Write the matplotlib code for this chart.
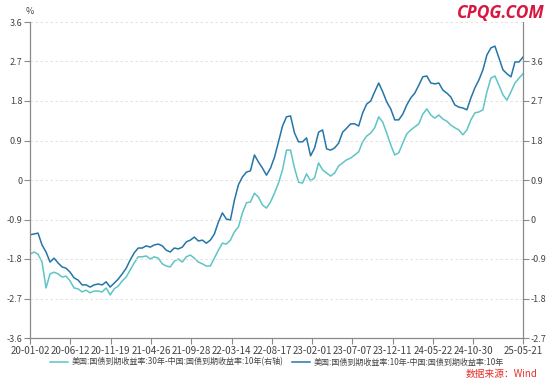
import matplotlib

matplotlib.use("Agg")
import matplotlib.pyplot as plt
import numpy as np

plt.rcParams["font.family"] = ["Noto Sans CJK SC", "DejaVu Sans"]
plt.rcParams["axes.unicode_minus"] = False

# 美国10年 - 中国10年 (左轴)
spread_10y = [
    -1.25, -1.23, -1.21, -1.48, -1.64, -1.87, -1.78, -1.89, -1.98, -2.01,
    -2.10, -2.23, -2.28, -2.39, -2.39, -2.44, -2.39, -2.37, -2.39, -2.32,
    -2.44, -2.35, -2.26, -2.14, -2.01, -1.82, -1.66, -1.55, -1.55, -1.50,
    -1.53, -1.48, -1.46, -1.50, -1.60, -1.64, -1.55, -1.57, -1.53, -1.41,
    -1.37, -1.30, -1.39, -1.37, -1.44, -1.37, -1.23, -0.96, -0.75, -0.89,
    -0.91, -0.46, -0.11, 0.07, 0.18, 0.21, 0.57, 0.41, 0.27, 0.11,
    0.27, 0.52, 0.87, 1.23, 1.44, 1.46, 1.07, 0.87, 0.87, 0.96,
    0.55, 0.73, 1.09, 1.14, 0.71, 0.68, 0.73, 0.84, 1.09, 1.18,
    1.28, 1.28, 1.23, 1.53, 1.73, 1.80, 2.01, 2.21, 2.01, 1.78,
    1.62, 1.37, 1.37, 1.50, 1.71, 1.87, 1.98, 2.16, 2.35, 2.37,
    2.21, 2.19, 2.21, 2.05, 1.98, 1.89, 1.71, 1.66, 1.64, 1.60,
    1.87, 2.10, 2.28, 2.51, 2.85, 3.01, 3.05, 2.78, 2.51, 2.42,
    2.35, 2.69, 2.69, 2.80,
]

# 美国30年 - 中国10年 (右轴)
spread_30y = [
    -0.79, -0.74, -0.79, -0.97, -1.56, -1.24, -1.20, -1.24, -1.31, -1.29,
    -1.40, -1.56, -1.58, -1.65, -1.61, -1.67, -1.63, -1.63, -1.65, -1.56,
    -1.72, -1.58, -1.52, -1.40, -1.31, -1.15, -0.99, -0.85, -0.85, -0.83,
    -0.90, -0.85, -0.88, -1.01, -1.06, -1.08, -0.95, -0.90, -0.97, -0.85,
    -0.81, -0.88, -0.97, -1.01, -1.06, -1.06, -0.88, -0.70, -0.54, -0.56,
    -0.47, -0.28, -0.17, 0.15, 0.38, 0.40, 0.60, 0.51, 0.33, 0.26,
    0.40, 0.60, 0.83, 1.13, 1.58, 1.58, 1.17, 0.85, 0.83, 1.04,
    0.88, 0.95, 1.29, 1.13, 1.06, 0.99, 1.06, 1.22, 1.29, 1.36,
    1.40, 1.47, 1.54, 1.77, 1.90, 1.97, 2.09, 2.34, 2.22, 1.97,
    1.70, 1.47, 1.52, 1.74, 1.95, 2.04, 2.11, 2.18, 2.40, 2.52,
    2.38, 2.31, 2.38, 2.29, 2.24, 2.15, 2.09, 2.04, 1.93, 2.04,
    2.27, 2.43, 2.45, 2.50, 2.91, 3.22, 3.27, 3.06, 2.84, 2.72,
    2.91, 3.11, 3.22, 3.32,
]

date_labels = [
    "20-01-02", "20-06-12", "20-11-19", "21-04-26", "21-09-28", "22-03-14",
    "22-08-17", "23-02-01", "23-07-07", "23-12-11", "24-05-22", "24-10-30",
    "25-05-21",
]

left_ticks = [3.6, 2.7, 1.8, 0.9, 0, -0.9, -1.8, -2.7, -3.6]
right_ticks = [3.6, 2.7, 1.8, 0.9, 0, -0.9, -1.8, -2.7]

label_30y = "美国:国债到期收益率:30年-中国:国债到期收益率:10年(右轴)"
label_10y = "美国:国债到期收益率:10年-中国:国债到期收益率:10年"

c_dark = "#2475a8"
c_teal = "#5fc4c6"
c_axis = "#8a8a8a"
c_text = "#444444"

fig = plt.figure(figsize=(5.54, 3.86), dpi=100)
fig.patch.set_facecolor("white")
ax = fig.add_axes([30 / 554, 48 / 386, 493 / 554, 316 / 386])
ax2 = ax.twinx()

x = np.arange(len(spread_10y))
n = len(x) - 1

ln2, = ax2.plot(x, spread_30y, color=c_teal, lw=1.1, label=label_30y)
ln1, = ax.plot(x, spread_10y, color=c_dark, lw=1.1, label=label_10y)
ax.set_zorder(ax2.get_zorder() + 1)
ax.patch.set_visible(False)

ax.set_xlim(0, n)
ax.set_ylim(-3.6, 3.6)
ax2.set_ylim(-2.7, 4.5)
ax.set_yticks(left_ticks)
ax.set_yticklabels([f"{v:g}" for v in left_ticks])
ax2.set_yticks(right_ticks)
ax2.set_yticklabels([f"{v:g}" for v in right_ticks])

tick_pos = [i * 10 * n / 122.3 for i in range(12)] + [n]
ax.set_xticks(tick_pos)
ax.set_xticklabels(date_labels)

ax.grid(True, axis="y", color="#dddddd", lw=0.6, ls=(0, (3, 3)))
for a in (ax, ax2):
    a.spines["top"].set_visible(False)
    for s in ("left", "right", "bottom"):
        a.spines[s].set_color(c_axis)
        a.spines[s].set_linewidth(0.9)
    a.tick_params(axis="both", colors=c_axis, labelcolor=c_text, labelsize=6.5,
                  length=4, width=0.8, pad=1.5)
ax.spines["right"].set_visible(False)
ax2.spines["left"].set_visible(False)
ax2.spines["bottom"].set_visible(False)
ax.tick_params(axis="x", labelsize=7, pad=2)

fig.text(30 / 554, 1 - 12 / 386, "%", ha="center", va="center", fontsize=6.5, color=c_text)

fig.legend(handles=[ln2, ln1], loc="center", bbox_to_anchor=(277 / 554, 1 - 362 / 386),
           ncol=2, frameon=False, fontsize=5.8, handlelength=2.2, handletextpad=0.5,
           columnspacing=1.0, labelcolor=c_text)

fig.text(545 / 554, 1 - 13 / 386, "CPQG.COM", ha="right", va="center", fontsize=12.5,
         fontweight="bold", fontstyle="italic", color="#d8163f", family=["Open Sans", "DejaVu Sans"])
fig.text(538 / 554, 1 - 374 / 386, "数据来源：Wind", ha="right", va="center", fontsize=7,
         color="#e8302a")

fig.savefig("out.png", dpi=100, facecolor="white")
